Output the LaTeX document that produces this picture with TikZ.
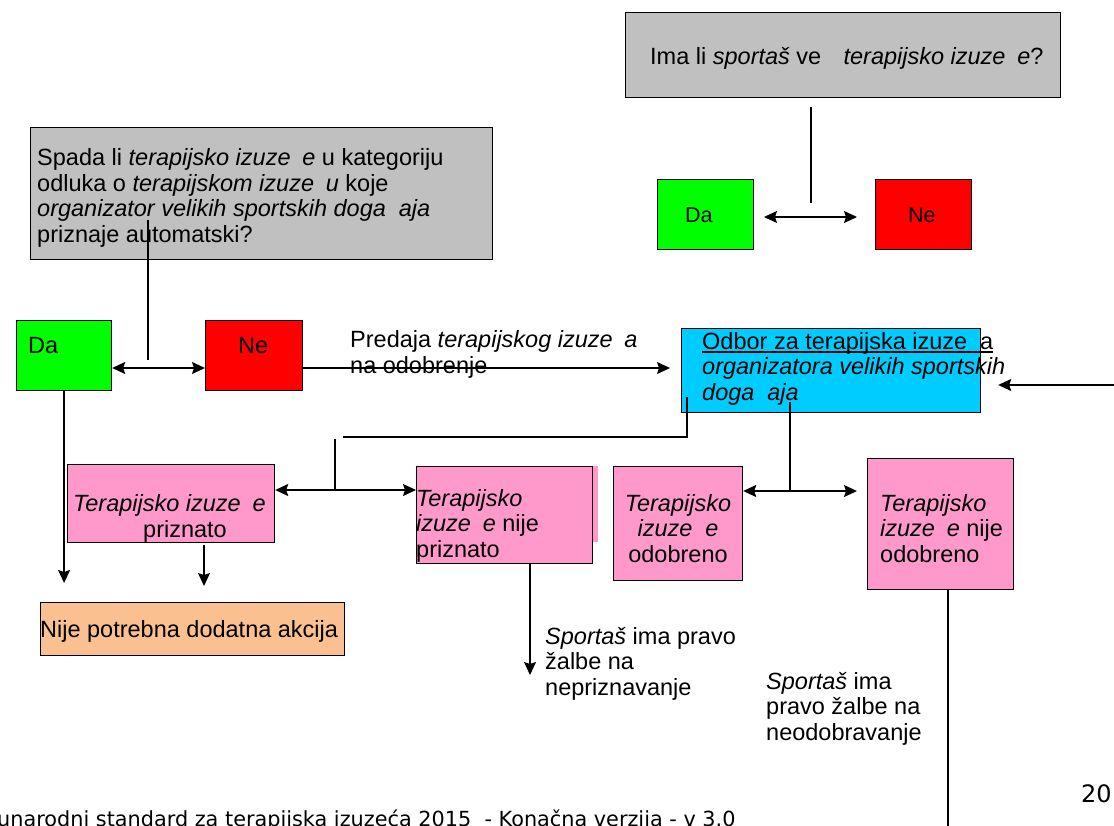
\documentclass[tikz,border=0pt]{standalone}
\usepackage{fontspec}
\setmainfont{Liberation Sans}
\newfontfamily\dejavu{DejaVu Sans}
\usepackage{xcolor}
\usepackage{tikz}
\usetikzlibrary{arrows.meta}
\usetikzlibrary{calc}

\definecolor{boxgray}{RGB}{192,192,192}
\definecolor{dagreen}{RGB}{0,255,0}
\definecolor{nered}{RGB}{255,0,0}
\definecolor{odborcyan}{RGB}{0,204,255}
\definecolor{izpink}{RGB}{255,153,204}
\definecolor{akcorange}{RGB}{250,192,144}

\newlength{\crtalen}
\newcommand{\podcrtano}[1]{\settowidth{\crtalen}{#1}\rlap{\rule[-3.5pt]{\crtalen}{1.3pt}}#1}

\tikzset{
  box/.style={draw=black, line width=1.2pt, anchor=north west, inner sep=0pt},
  lbl/.style={anchor=base west, inner sep=0pt, align=left},
  link/.style={line width=1.3pt},
  tip/.style={link, -{Stealth[length=13pt,width=12pt,inset=2pt]}},
  tips/.style={link, {Stealth[length=13pt,width=12pt,inset=2pt]}-{Stealth[length=13pt,width=12pt,inset=2pt]}}
}

\begin{document}
\begin{tikzpicture}[x=1pt,y=-1pt,font=\fontsize{23.5}{25.5}\selectfont]
            \useasboundingbox (0,0) rectangle (1114,825);

            % boxes
            \node[box, fill=boxgray, minimum width=435pt, minimum height=85pt] (sportas) at (625,12) {};
            \node[box, fill=dagreen, minimum width=96pt, minimum height=70pt] (daA) at (657,179) {};
            \node[box, fill=nered, minimum width=96pt, minimum height=70pt] (neA) at (875,179) {};
            \node[box, fill=boxgray, minimum width=462pt, minimum height=132pt] (kategorija) at (30,127) {};
            \node[box, fill=dagreen, minimum width=95pt, minimum height=70pt] (daB) at (16,320) {};
            \node[box, fill=nered, minimum width=97pt, minimum height=70pt] (neB) at (205,320) {};
            \node[box, fill=odborcyan, minimum width=299pt, minimum height=84pt] (odbor) at (681,328) {};
            \node[box, fill=izpink, minimum width=207pt, minimum height=78pt] (priznato) at (67,464) {};
            \fill[izpink] (592,466) rectangle (598,542);
            \node[box, fill=izpink, minimum width=176pt, minimum height=97pt] (nijeprizn) at (416,466) {};
            \node[box, fill=izpink, minimum width=129pt, minimum height=114pt] (odobreno) at (613,466) {};
            \node[box, fill=izpink, minimum width=146pt, minimum height=131pt] (nijeodobr) at (867,458) {};
            \node[box, fill=akcorange, minimum width=304pt, minimum height=53pt] (akcija) at (40,602) {};

            % texts (multi-line ones sit on their last line)
            \node[lbl] (sportasT) at (650,64) {Ima li \textit{sportaš} ve\hspace{0.95em}\textit{terapijsko izuze\hspace{0.5em}e}?};
            \node[lbl, font=\fontsize{21.5}{24}\selectfont] (daAT) at (685,222) {Da};
            \node[lbl, font=\fontsize{21.5}{24}\selectfont] (neAT) at (908,222) {Ne};
            \node[lbl] (kategorijaT) at (37,242) {Spada li \textit{terapijsko izuze\hspace{0.5em}e} u kategoriju\\
                odluka o \textit{terapijskom izuze\hspace{0.5em}u} koje\\
                \textit{organizator velikih sportskih doga\hspace{0.55em}aja}\\
                priznaje automatski?};
            \node[lbl] (daBT) at (28,353) {Da};
            \node[lbl] (neBT) at (238,353) {Ne};
            \node[lbl] (predajaT) at (350,373) {Predaja \textit{terapijskog izuze\hspace{0.5em}a}\\na odobrenje};
            \node[lbl] (odborT) at (702,400) {\podcrtano{Odbor za terapijska izuze\hspace{0.55em}a}\\
                \textit{organizatora velikih sportskih}\\
                \textit{doga\hspace{0.55em}aja}};
            \node[lbl] (priznatoT) at (73,537) {\textit{Terapijsko izuze\hspace{0.5em}e}\\\hspace*{70pt}priznato};
            \node[lbl] (nijepriznT) at (416,557) {\textit{Terapijsko}\\\textit{izuze\hspace{0.5em}e} nije\\priznato};
            \node[anchor=base, inner sep=0pt, align=center] (odobrenoT) at (678,562) {\textit{Terapijsko}\\\textit{izuze\hspace{0.55em}e}\\odobreno};
            \node[lbl] (nijeodobrT) at (880,562) {\textit{Terapijsko}\\\textit{izuze\hspace{0.5em}e} nije\\odobreno};
            \node[lbl] (akcijaT) at (40,637) {Nije potrebna dodatna akcija};
            \node[lbl] (zalbaA) at (545,695) {\textit{Sportaš} ima pravo\\žalbe na\\nepriznavanje};
            \node[lbl] (zalbaB) at (766,740) {\textit{Sportaš} ima\\pravo žalbe na\\neodobravanje};
            \node[lbl, font=\dejavu\fontsize{20.8}{24}\selectfont] (podnozje) at (-3,826) {unarodni standard za terapijska izuzeća 2015\ \ - Konačna verzija - v 3.0};
            \node[lbl, font=\dejavu\fontsize{24}{28}\selectfont] (stranica) at (1081,802) {20};

            % free ends
            \draw (811,107) coordinate (qTop);
            \draw (811,203) coordinate (qBot);
            \draw (764,217) coordinate (qL);
            \draw (857,217) coordinate (qR);
            \draw (148,220) coordinate (kTop);
            \draw (148,360) coordinate (kBot);
            \draw (148,368) coordinate (kMid);
            \draw (1120,385) coordinate (rIn);
            \draw (687,397) coordinate (oL1);
            \draw (343,437) coordinate (oL2);
            \draw (335,439) coordinate (sTop);
            \draw (335,490) coordinate (sBot);
            \draw (790,402) coordinate (oR1);
            \draw (790,491) coordinate (oR2);
            \draw (63,583) coordinate (daTip);
            \draw (204,545) coordinate (pStart);
            \draw (204,586) coordinate (pTip);
            \draw (530,675) coordinate (bTip);
            \draw (948,830) coordinate (dEnd);

            % connectors
            \draw[link] (qTop)--(qBot);
            \draw[tips] (qL)--(qR);
            \draw[link] (kTop)--(kBot);
            \draw[tips] (daB.east |- kMid)--(neB.west |- kMid);
            \draw[tip, shorten >=11pt] (neB.east |- kMid)--(odbor.west |- kMid);
            \draw[tip, shorten >=17pt] (rIn)--(odbor.east |- rIn);
            \draw[link] (oL1) |- (oL2);
            \draw[link] (sTop)--(sBot);
            \draw[tips] (priznato.east |- sBot)--(nijeprizn.west |- sBot);
            \draw[link] (oR1)--(oR2);
            \draw[tips, shorten >=10pt] (odobreno.east |- oR2)--(nijeodobr.west |- oR2);
            \draw[tip] (daB.south)--(daB.south |- daTip);
            \draw[tip] (pStart)--(pTip);
            \draw[tip] (nijeprizn.south -| bTip)--(bTip);
            \draw[link] (nijeodobr.south -| dEnd)--(dEnd);
        \end{tikzpicture}
\end{document}
